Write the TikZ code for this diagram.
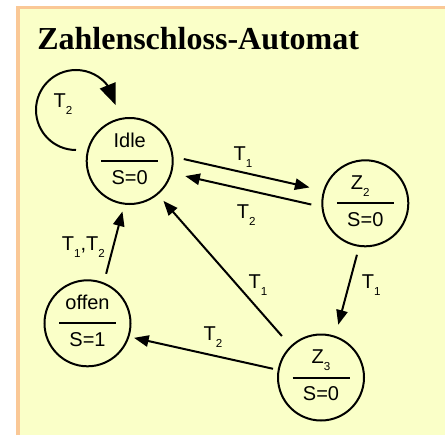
\documentclass[tikz,border=0pt]{standalone}
\usepackage{fontspec}
\setmainfont{Liberation Sans}
\newfontfamily\titlefont{Liberation Serif}
\usetikzlibrary{arrows.meta,bending,calc}

\definecolor{panelfill}{RGB}{250,255,200}
\definecolor{panelrim}{RGB}{250,200,150}

% lowered small index, as in T_1
\newcommand\sbs[1]{\raisebox{-5.3pt}{\fontsize{8.7pt}{9pt}\selectfont #1}}

% a state: circle, name above a short bar, output below it
\newcommand\statenode[5]{%
  \node[statecircle] (#1) at (#2) {};
  \node[statetext] (#1-up) at ($(#1.center)+(#4,-14)$) {#3};
  \draw[divider] ($(#1.center)+(-28.5,0)$) -- ($(#1.center)+(28.5,0)$);
  \node[statetext] (#1-low) at ($(#1.center)+(0,23)$) {#5};
}

\begin{document}
\begin{tikzpicture}[x=0.75pt,y=-0.75pt,
  statecircle/.style={circle,draw,line width=1.5pt,minimum size=64.5pt,inner sep=0pt,outer sep=0pt},
  statetext/.style={anchor=base,inner sep=0pt,font=\fontsize{15pt}{18pt}\selectfont},
  divider/.style={line width=1.5pt},
  lbl/.style={anchor=base west,inner sep=0pt,font=\fontsize{15pt}{18pt}\selectfont},
  edge/.style={line width=1.5pt,-{Triangle[length=11pt,width=8.5pt]}},
  loopedge/.style={line width=1.5pt,-{Triangle[flex,length=16pt,width=12.5pt]}}]

% panel
\path[fill=white,use as bounding box] (0,0) rectangle (445,435);
\fill[panelfill] (18,7.6) rectangle (445,435);
\draw[panelrim,line width=2.6pt] (18,435) -- (18,7.6) -- (445,7.6);

% title
\node[anchor=base west,inner sep=0pt,font=\titlefont\bfseries\fontsize{24pt}{28pt}\selectfont]
  (title) at (37,50) {Zahlenschloss-Automat};

% states
\statenode{idle}{129.7,161}{Idle}{0}{S=0}
\statenode{ztwo}{365.3,203.3}{Z\sbs{2}}{-5}{S=0}
\statenode{zthree}{321,377.5}{Z\sbs{3}}{0}{S=0}
\statenode{offen}{87.5,323.3}{offen}{0}{S=1}

% transitions
\coordinate (loopstart) at ($(idle.center)+(-53.7,-11)$);
\draw[loopedge] (loopstart) arc[start angle=90,end angle=353,radius=40];
\draw[edge,shorten <=8.7pt,shorten >=11.25pt] (idle.6) -- (ztwo.163);
\draw[edge,shorten <=8.6pt,shorten >=10.9pt] (ztwo.185) -- (idle.344);
\draw[edge,shorten <=6.9pt,shorten >=9.4pt] (ztwo.262) -- (zthree.71);
\draw[edge,shorten <=10.5pt,shorten >=6.9pt] (zthree.134) -- (idle.310);
\draw[edge,shorten <=4.3pt,shorten >=4.3pt] (zthree.170) -- (offen.342);
\draw[edge,shorten <=7.5pt,shorten >=6pt] (offen.68) -- (idle.263);

% transition labels
\node[lbl] (lab-loop) at (53.3,107) {T\sbs{2}};
\node[lbl] (lab-iz) at (233.3,160) {T\sbs{1}};
\node[lbl] (lab-zi) at (236.7,218.3) {T\sbs{2}};
\node[lbl] (lab-zz) at (361.7,288.3) {T\sbs{1}};
\node[lbl] (lab-zthi) at (248.3,288.3) {T\sbs{1}};
\node[lbl] (lab-zo) at (203.3,340) {T\sbs{2}};
\node[lbl] (lab-oi) at (61.7,250) {T\sbs{1},T\sbs{2}};
\end{tikzpicture}
\end{document}
